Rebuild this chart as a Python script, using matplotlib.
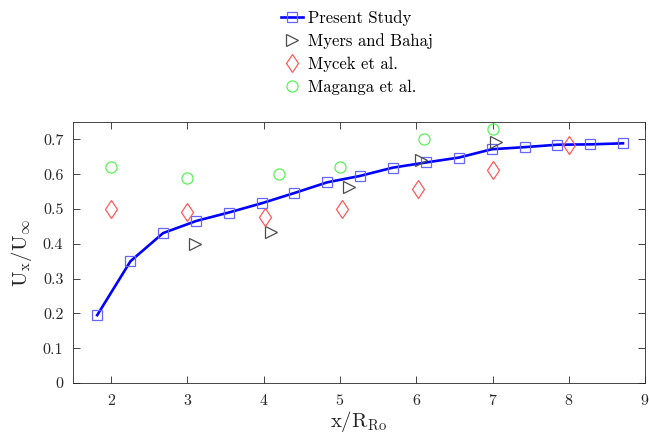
import matplotlib
matplotlib.use("Agg")
import matplotlib.pyplot as plt

plt.rcParams['font.family'] = ['serif']
plt.rcParams['font.serif'] = ['cmr10', 'DejaVu Serif']
plt.rcParams['mathtext.fontset'] = 'cm'
plt.rcParams['axes.unicode_minus'] = False
plt.rcParams['axes.formatter.use_mathtext'] = True

# Present study: streamwise velocity deficit recovery
present_x = [1.817, 2.253, 2.681, 3.118, 3.541, 3.978, 4.40, 4.834, 5.258,
             5.691, 6.129, 6.558, 6.99, 7.42, 7.85, 8.28, 8.71]
present_u = [0.195, 0.350, 0.431, 0.466, 0.490, 0.517, 0.546, 0.577, 0.595,
             0.619, 0.634, 0.648, 0.672, 0.678, 0.685, 0.686, 0.689]

# Experimental reference data
myers_x = [3.10, 4.09, 5.12, 6.06, 7.05]
myers_u = [0.400, 0.433, 0.562, 0.642, 0.694]

mycek_x = [2.0, 3.0, 4.02, 5.02, 6.02, 7.01, 8.0]
mycek_u = [0.500, 0.491, 0.476, 0.499, 0.558, 0.613, 0.683]

maganga_x = [2.0, 3.0, 4.2, 5.0, 6.1, 7.0]
maganga_u = [0.620, 0.590, 0.600, 0.620, 0.700, 0.730]

xticks = [2, 3, 4, 5, 6, 7, 8, 9]
yticks = [0, 0.1, 0.2, 0.3, 0.4, 0.5, 0.6, 0.7]

fig = plt.figure(figsize=(6.49, 4.44), dpi=100)
ax = fig.add_axes([0.1125, 0.1374, 0.8815, 0.5876])

ax.plot(present_x, present_u, '-', color=(0, 0, 1), lw=1.9, marker='s',
        ms=7, mfc='none', mec=(0.4, 0.4, 1), mew=0.9, label='Present Study')
ax.plot(myers_x, myers_u, ls='none', marker='>', ms=8, mfc='none',
        mec=(0.3, 0.3, 0.3), mew=0.9, label='Myers and Bahaj')
ax.plot(mycek_x, mycek_u, ls='none', marker='d', ms=9.5, mfc='none',
        mec=(1, 0.35, 0.35), mew=0.9, label='Mycek et al.')
ax.plot(maganga_x, maganga_u, ls='none', marker='o', ms=8, mfc='none',
        mec=(0.35, 0.95, 0.35), mew=0.9, label='Maganga et al.')

ax.set_xlim(1.5, 9)
ax.set_ylim(0, 0.75)
ax.set_xticks(xticks)
ax.set_yticks(yticks)
ax.set_yticklabels(['0' if v == 0 else f'{v:.1f}' for v in yticks])
ax.tick_params(direction='in', top=True, right=True, labelsize=11.5,
               length=5, width=0.6, colors='#262626', labelcolor='#262626', pad=7)
for s in ax.spines.values():
    s.set_linewidth(0.6)
    s.set_color('#262626')

ax.set_xlabel(r'$\mathrm{x/R_{Ro}}$', fontsize=15, color='#262626', labelpad=1)
ax.set_ylabel(r'$\mathrm{U_x/U_\infty}$', fontsize=15, color='#262626', labelpad=6)

fig.legend(loc='upper left', bbox_to_anchor=(0.418, 1.0), frameon=False,
           fontsize=12, handlelength=1.3, labelspacing=0.45, handletextpad=0.3,
           borderaxespad=0.2)

fig.savefig('out.png', dpi=100)
